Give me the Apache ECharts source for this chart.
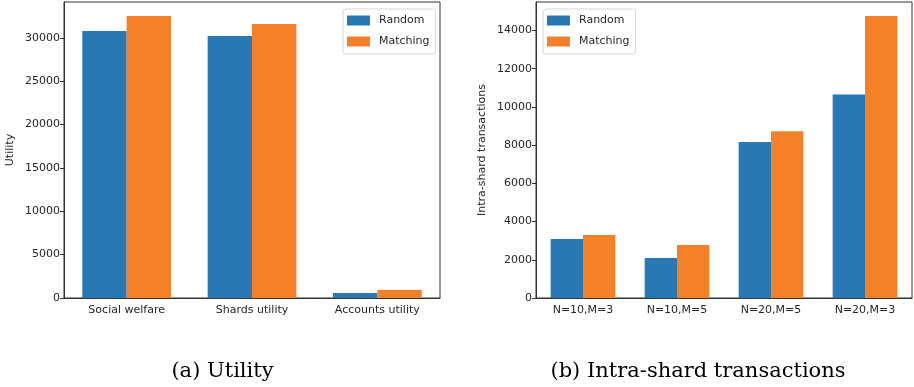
<!DOCTYPE html>
<html>
<head>
<meta charset="utf-8">
<script src="https://cdn.jsdelivr.net/npm/echarts@6/dist/echarts.min.js"></script>
<style>
html,body{margin:0;padding:0;background:#fff;}
#c{width:914px;height:387px;}
</style>
</head>
<body>
<div id="c"></div>
<script>
// ---- data ----
const seriesNames = ['Random', 'Matching'];
const utilCategories = ['Social welfare', 'Shards utility', 'Accounts utility'];
const utilRandom = [30770, 30200, 580];
const utilMatching = [32500, 31580, 920];
const utilYMax = 34125;
const utilYInterval = 5000;

const txCategories = ['N=10,M=3', 'N=10,M=5', 'N=20,M=5', 'N=20,M=3'];
const txRandom = [3090, 2090, 8160, 10650];
const txMatching = [3300, 2770, 8730, 14750];
const txYMax = 15487;
const txYInterval = 2000;

const captions = ['(a) Utility', '(b) Intra-shard transactions'];
const yNames = ['Utility', 'Intra-shard transactions'];

// ---- styles ----
const BLUE = '#2878b4';
const ORANGE = '#f48028';
const FONT = 'DejaVu Sans';
const TXT = '#262626';
const AX = '#333333';

function xAxis(idx, cats) {
  return {
    type: 'category', gridIndex: idx, data: cats,
    axisLine: {lineStyle: {color: AX, width: 1}},
    axisTick: {alignWithLabel: true, length: 4, lineStyle: {color: AX}},
    axisLabel: {color: TXT, fontFamily: FONT, fontSize: 11, margin: 7}
  };
}
function yAxis(idx, max, interval, name) {
  return {
    type: 'value', gridIndex: idx, min: 0, max: max, interval: interval,
    name: name, nameLocation: 'middle', nameGap: 48,
    nameTextStyle: {color: TXT, fontFamily: FONT, fontSize: 11},
    splitLine: {show: false},
    axisLine: {show: true, lineStyle: {color: AX, width: 1}},
    axisTick: {show: true, length: 4, lineStyle: {color: AX}},
    axisLabel: {color: TXT, fontFamily: FONT, fontSize: 11, margin: 4, showMaxLabel: false,
      formatter: function (v) { return String(Math.round(v)); }}
  };
}
function legend(left) {
  return {
    data: seriesNames, orient: 'vertical', left: left, top: 9,
    itemWidth: 23, itemHeight: 10, itemGap: 10,
    padding: [6, 6, 7, 4],
    borderColor: '#d6d6d6', borderWidth: 1, borderRadius: 3,
    backgroundColor: '#fff',
    textStyle: {color: TXT, fontFamily: FONT, fontSize: 11, padding: [0, 0, 0, 4], lineHeight: 10},
    icon: 'rect', selectedMode: false
  };
}

const chart = echarts.init(document.getElementById('c'), null, {renderer: 'canvas'});
const option = {
  animation: false,
  backgroundColor: '#fff',
  grid: [
    {left: 64, right: 474, top: 2, bottom: 89, show: true, borderColor: AX, borderWidth: 1},
    {left: 536, right: 2, top: 2, bottom: 89, show: true, borderColor: AX, borderWidth: 1}
  ],
  xAxis: [xAxis(0, utilCategories), xAxis(1, txCategories)],
  yAxis: [yAxis(0, utilYMax, utilYInterval, yNames[0]), yAxis(1, txYMax, txYInterval, yNames[1])],
  legend: [legend(343), legend(543)],
  series: [
    {name: seriesNames[0], type: 'bar', xAxisIndex: 0, yAxisIndex: 0, data: utilRandom, barWidth: '35.4%', barGap: '0%', itemStyle: {color: BLUE}},
    {name: seriesNames[1], type: 'bar', xAxisIndex: 0, yAxisIndex: 0, data: utilMatching, barWidth: '35.4%', barGap: '0%', itemStyle: {color: ORANGE}},
    {name: seriesNames[0], type: 'bar', xAxisIndex: 1, yAxisIndex: 1, data: txRandom, barWidth: '34.4%', barGap: '0%', itemStyle: {color: BLUE}},
    {name: seriesNames[1], type: 'bar', xAxisIndex: 1, yAxisIndex: 1, data: txMatching, barWidth: '34.4%', barGap: '0%', itemStyle: {color: ORANGE}}
  ],
  graphic: [
    {type: 'text', x: 222.5, y: 372, style: {text: captions[0], fill: '#000', font: '21px "DejaVu Serif"', textAlign: 'center', textVerticalAlign: 'middle'}},
    {type: 'text', x: 698, y: 372, style: {text: captions[1], fill: '#000', font: '21px "DejaVu Serif"', textAlign: 'center', textVerticalAlign: 'middle'}}
  ]
};
chart.setOption(option);
</script>
</body>
</html>
